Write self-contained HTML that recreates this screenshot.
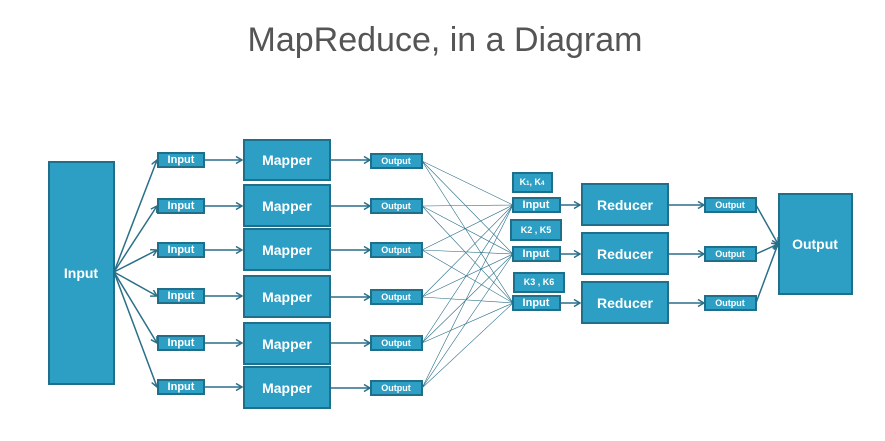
<!DOCTYPE html>
<html><head><meta charset="utf-8"><style>
html,body{margin:0;padding:0;background:#fff;width:885px;height:441px;overflow:hidden}
svg text{font-family:"Liberation Sans",sans-serif;fill:#fff;font-weight:bold;text-anchor:middle;dominant-baseline:central}
</style></head><body>
<svg width="885" height="441" viewBox="0 0 885 441" xmlns="http://www.w3.org/2000/svg">
<defs><marker id="a" markerWidth="8" markerHeight="8" refX="7" refY="4" orient="auto" markerUnits="userSpaceOnUse"><path d="M1,0.5 L7,4 L1,7.5" fill="none" stroke="#2a6f88" stroke-width="1.5"/></marker></defs>
<text x="445" y="40" style="fill:#555;font-weight:normal;font-size:34px">MapReduce, in a Diagram</text>
<g stroke="#2a6f88" stroke-width="0.6" fill="none">
<!-- cross lines -->
<path d="M422,161L513,205M422,161L513,254M422,161L513,303M422,206L513,205M422,206L513,254M422,206L513,303M422,250L513,205M422,250L513,254M422,250L513,303M422,297L513,205M422,297L513,254M422,297L513,303M422,343L513,205M422,343L513,254M422,343L513,303M422,388L513,205M422,388L513,254M422,388L513,303"/>
</g>
<g stroke="#2a6f88" stroke-width="1.5" fill="none" marker-end="url(#a)">
<line x1="114" y1="272" x2="157" y2="160"/><line x1="114" y1="272" x2="157" y2="206"/><line x1="114" y1="272" x2="157" y2="250"/><line x1="114" y1="272" x2="157" y2="296"/><line x1="114" y1="272" x2="157" y2="343"/><line x1="114" y1="272" x2="157" y2="387"/>
<line x1="204" y1="160" x2="242" y2="160"/><line x1="204" y1="206" x2="242" y2="206"/><line x1="204" y1="250" x2="242" y2="250"/><line x1="204" y1="296" x2="242" y2="296"/><line x1="204" y1="343" x2="242" y2="343"/><line x1="204" y1="387" x2="242" y2="387"/>
<line x1="330" y1="160" x2="370" y2="160"/><line x1="330" y1="206" x2="370" y2="206"/><line x1="330" y1="250" x2="370" y2="250"/><line x1="330" y1="297" x2="370" y2="297"/><line x1="330" y1="343" x2="370" y2="343"/><line x1="330" y1="388" x2="370" y2="388"/>
<line x1="560" y1="205" x2="580" y2="205"/><line x1="560" y1="254" x2="580" y2="254"/><line x1="560" y1="303" x2="580" y2="303"/>
<line x1="668" y1="205" x2="704" y2="205"/><line x1="668" y1="254" x2="704" y2="254"/><line x1="668" y1="303" x2="704" y2="303"/>
<line x1="756" y1="205" x2="778" y2="244"/><line x1="756" y1="254" x2="778" y2="244"/><line x1="756" y1="303" x2="778" y2="244"/>
</g>
<g fill="#2e9fc4" stroke="#1f6f8b" stroke-width="2">
<rect x="49" y="162" width="65" height="222"/>
<rect x="158" y="153" width="46" height="14"/><rect x="158" y="199" width="46" height="14"/><rect x="158" y="243" width="46" height="14"/><rect x="158" y="289" width="46" height="14"/><rect x="158" y="336" width="46" height="14"/><rect x="158" y="380" width="46" height="14"/>
<rect x="244" y="140" width="86" height="40"/><rect x="244" y="185" width="86" height="41"/><rect x="244" y="229" width="86" height="41"/><rect x="244" y="276" width="86" height="41"/><rect x="244" y="323" width="86" height="41"/><rect x="244" y="367" width="86" height="41"/>
<rect x="371" y="154" width="51" height="14"/><rect x="371" y="199" width="51" height="14"/><rect x="371" y="243" width="51" height="14"/><rect x="371" y="290" width="51" height="14"/><rect x="371" y="336" width="51" height="14"/><rect x="371" y="381" width="51" height="14"/>
<rect x="513" y="173" width="39" height="19"/><rect x="511" y="220" width="50" height="20"/><rect x="514" y="273" width="50" height="19"/>
<rect x="513" y="198" width="47" height="14"/><rect x="513" y="247" width="47" height="14"/><rect x="513" y="296" width="47" height="14"/>
<rect x="582" y="184" width="86" height="41"/><rect x="582" y="233" width="86" height="41"/><rect x="582" y="282" width="86" height="41"/>
<rect x="705" y="198" width="51" height="14"/><rect x="705" y="247" width="51" height="14"/><rect x="705" y="296" width="51" height="14"/>
<rect x="779" y="194" width="73" height="100"/>
</g>
<text x="81" y="273" font-size="14">Input</text>
<g font-size="11"><text x="181" y="160">Input</text><text x="181" y="206">Input</text><text x="181" y="250">Input</text><text x="181" y="296">Input</text><text x="181" y="343">Input</text><text x="181" y="387">Input</text>
<text x="536" y="205">Input</text><text x="536" y="254">Input</text><text x="536" y="303">Input</text></g>
<g font-size="14"><text x="287" y="160">Mapper</text><text x="287" y="206">Mapper</text><text x="287" y="250">Mapper</text><text x="287" y="297">Mapper</text><text x="287" y="344">Mapper</text><text x="287" y="388">Mapper</text>
<text x="625" y="205">Reducer</text><text x="625" y="254">Reducer</text><text x="625" y="303">Reducer</text><text x="815" y="244">Output</text></g>
<g font-size="9"><text x="396" y="161">Output</text><text x="396" y="206">Output</text><text x="396" y="250">Output</text><text x="396" y="297">Output</text><text x="396" y="343">Output</text><text x="396" y="388">Output</text>
<text x="730" y="205">Output</text><text x="730" y="254">Output</text><text x="730" y="303">Output</text>
<text x="532" y="182">K<tspan font-size="6" dy="2">1</tspan><tspan dy="-2">, K</tspan><tspan font-size="6" dy="2">4</tspan></text>
<text x="536" y="230">K2 , K5</text><text x="539" y="282">K3 , K6</text></g>
</svg>
</body></html>
